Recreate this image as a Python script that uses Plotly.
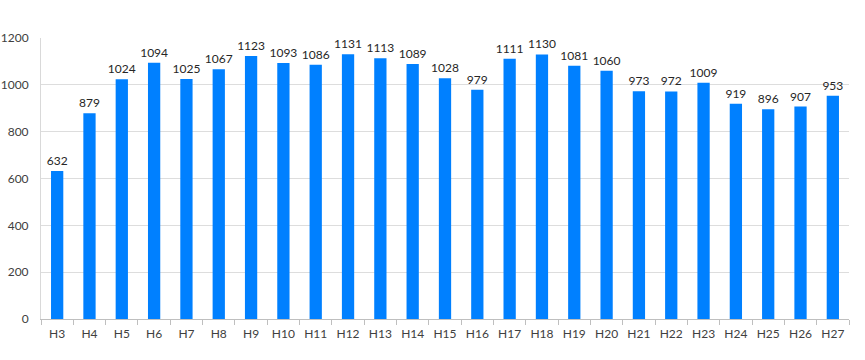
import plotly.graph_objects as go

categories = ["H3", "H4", "H5", "H6", "H7", "H8", "H9", "H10", "H11", "H12", "H13", "H14", "H15",
              "H16", "H17", "H18", "H19", "H20", "H21", "H22", "H23", "H24", "H25", "H26", "H27"]
values = [632, 879, 1024, 1094, 1025, 1067, 1123, 1093, 1086, 1131, 1113, 1089, 1028,
          979, 1111, 1130, 1081, 1060, 973, 972, 1009, 919, 896, 907, 953]
y_ticks = [0, 200, 400, 600, 800, 1000, 1200]

fig = go.Figure(go.Bar(
    x=categories, y=values,
    marker=dict(color="#0080FF", line=dict(width=0)),
    text=[str(v) for v in values], textposition="outside",
    textfont=dict(size=12, color="#262626", family="Lato"),
    constraintext="none",
    cliponaxis=False,
))

fig.update_layout(
    width=865, height=360,
    margin=dict(l=41, r=16, t=38, b=41, autoexpand=False),
    paper_bgcolor="white", plot_bgcolor="white",
    bargap=0.62,
    showlegend=False,
    font=dict(family="Lato", size=12, color="#404040"),
    uniformtext=dict(minsize=11, mode="show"),
    xaxis=dict(showline=True, linecolor="#BFBFBF", linewidth=1, automargin=False,
               tickangle=0,
               ticks="outside", tickson="boundaries", ticklen=5, tickcolor="#BFBFBF",
               ticklabelstandoff=4,
               tickfont=dict(size=12, color="#404040"), showgrid=False),
    yaxis=dict(range=[0, 1200], tickvals=y_ticks, showline=True, linecolor="#D9D9D9",
               automargin=False,
               gridcolor="#DDDDDD", gridwidth=1, zeroline=False,
               ticks="", tickfont=dict(size=12, color="#404040"), ticklabelstandoff=9),
)

fig.write_html("out.html", config={"displayModeBar": False},
               post_script="document.body.style.margin='0';")
